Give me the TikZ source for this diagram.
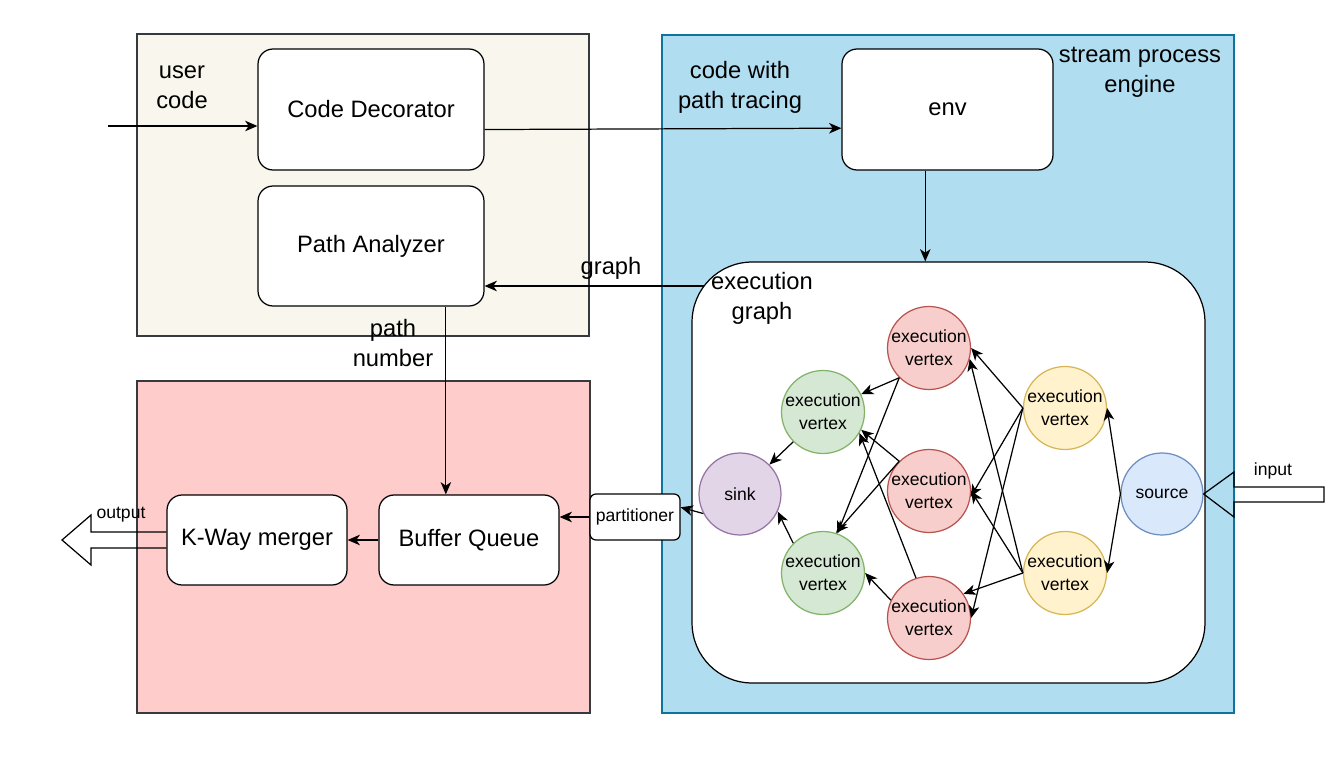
\documentclass[tikz,border=0pt]{standalone}
\usepackage{fontspec}
\setmainfont{Liberation Sans}
\usetikzlibrary{arrows.meta}
\definecolor{panelline}{HTML}{36393D}
\definecolor{usrfill}{HTML}{F9F7ED}
\definecolor{mrgfill}{HTML}{FFCCCC}
\definecolor{engfill}{HTML}{B1DDF0}
\definecolor{engline}{HTML}{10739E}
\definecolor{redfill}{HTML}{F8CECC}
\definecolor{redline}{HTML}{B85450}
\definecolor{greenfill}{HTML}{D5E8D4}
\definecolor{greenline}{HTML}{82B366}
\definecolor{yellowfill}{HTML}{FFF2CC}
\definecolor{yellowline}{HTML}{D6B656}
\definecolor{sinkfill}{HTML}{E1D5E7}
\definecolor{sinkline}{HTML}{9673A6}
\definecolor{srcfill}{HTML}{DAE8FC}
\definecolor{srcline}{HTML}{6C8EBF}
\begin{document}
\begin{tikzpicture}[x=0.02cm,y=0.02cm,line width=0.7pt,>={Stealth[length=7pt,width=6pt,inset=2pt]}]
\tikzstyle{every node}+=[inner sep=0pt]
\tikzstyle{panel}=[draw=panelline, rectangle]
\tikzstyle{block}=[draw=black, fill=white, rectangle, rounded corners=0.3cm, align=center, font=\fontsize{13.5}{17}\selectfont]
\tikzstyle{bigtext}=[align=center, font=\fontsize{13.5}{17}\selectfont]
\tikzstyle{smalltext}=[align=center, font=\fontsize{10}{13}\selectfont]
\tikzstyle{vertex}=[draw, circle, minimum size=1.64cm, align=center, font=\fontsize{10}{13}\selectfont]
\useasboundingbox (0,0) rectangle (1340,-774);
\node[panel, fill=usrfill, minimum width=9.04cm, minimum height=6.04cm] (usrpanel) at (363,-185) {};
\node[panel, fill=mrgfill, minimum width=9.06cm, minimum height=6.64cm] (mrgpanel) at (363.5,-547) {};
\node[panel, draw=engline, fill=engfill, minimum width=11.44cm, minimum height=13.56cm] (engpanel) at (948,-374) {};
\node[bigtext] (usrlbl) at (182,-87) {user\\code};
\node[bigtext] (tracelbl) at (740,-87) {code with\\path tracing};
\node[bigtext] (englbl) at (1140,-72) {stream process\\engine};
\node[bigtext] (graphlbl) at (611,-268) {graph};
\node[bigtext] (pathlbl) at (393,-343) {path\\number};
\node[block, minimum width=4.52cm, minimum height=2.42cm] (deco) at (371,-109.5) {Code Decorator};
\node[block, minimum width=4.52cm, minimum height=2.4cm] (ana) at (371,-246) {Path Analyzer};
\node[block, minimum width=4.22cm, minimum height=2.42cm] (env) at (947.5,-109.5) {env};
\node[block, rounded corners=1.2cm, minimum width=10.26cm, minimum height=8.42cm] (egraph) at (948.5,-472.5) {};
\node[bigtext] (egraphlbl) at (762,-298) {execution\\graph};
\node[block, minimum width=3.6cm, minimum height=1.8cm] (kway) at (257,-540) {K-Way merger};
\node[block, minimum width=3.6cm, minimum height=1.8cm] (buf) at (469,-540) {Buffer Queue};
\node[block, rounded corners=0.12cm, minimum width=1.8cm, minimum height=0.92cm, font=\fontsize{10}{13}\selectfont] (part) at (635,-517) {partitioner};
\node[vertex, draw=redline, fill=redfill] (rtop) at (929,-348) {execution\\vertex};
\node[vertex, draw=redline, fill=redfill] (rmid) at (929,-491) {execution\\vertex};
\node[vertex, draw=redline, fill=redfill] (rbot) at (929,-618) {execution\\vertex};
\node[vertex, draw=greenline, fill=greenfill] (gtop) at (823,-412) {execution\\vertex};
\node[vertex, draw=greenline, fill=greenfill] (gbot) at (823,-573) {execution\\vertex};
\node[vertex, draw=yellowline, fill=yellowfill] (ytop) at (1065,-408) {execution\\vertex};
\node[vertex, draw=yellowline, fill=yellowfill] (ybot) at (1065,-573) {execution\\vertex};
\node[vertex, draw=sinkline, fill=sinkfill] (sink) at (740,-494) {sink};
\node[vertex, draw=srcline, fill=srcfill] (src) at (1162,-494) {source};
\coordinate (usrin) at (108,-126);
\coordinate (gout) at (704,-286);
\draw [black, ->] (usrin) -- (usrin -| deco.west);
\draw [black, ->] (deco.-10) -- (env.190);
\draw [black, ->] (env.250) -- (env.250 |- egraph.north);
\draw [black, ->] (gout) -- (gout -| ana.east);
\draw [black, ->] (ana.-39) -- (ana.-39 |- buf.north);
\draw [black, ->] (part.west) -- (part.west -| buf.east);
\draw [black, ->] (buf) -- (kway);
\draw [black, ->] (sink.208) -- (part.12);
\draw [black, ->] (rtop.225) -- (gtop.25);
\draw [black, ->] (rtop.225) -- (gbot.70);
\draw [black, ->] (rmid.135) -- (gtop.-25);
\draw [black, ->] (rmid.135) -- (gbot.72);
\draw [black, ->] (rbot.155) -- (gbot.0);
\draw [black, ->] (rbot.108) -- (gtop.-30);
\draw [black, ->] (gtop.225) -- (sink.45);
\draw [black, ->] (gbot.135) -- (sink.-25);
\draw [black, ->] (ytop.west) -- (rtop.east);
\draw [black, ->] (ytop.west) -- (rmid.-8);
\draw [black, ->] (ytop.west) -- (rbot.east);
\draw [black, ->] (ybot.west) -- (rtop.-15);
\draw [black, ->] (ybot.west) -- (rmid.east);
\draw [black, ->] (ybot.west) -- (rbot.35);
\draw [black, ->] (src.west) -- (ytop.east);
\draw [black, ->] (src.west) -- (ybot.east);
\draw [black] (kway.west |- 0,-532) -- (91,-532) -- (91,-515) -- (62,-540) -- (91,-565) -- (91,-548) -- (kway.west |- 0,-548);
\node[smalltext] (outlbl) at (121,-515) {output};
\draw [black] (1324,-487) -- (1234,-487) -- (1234,-472) -- (src.east) -- (1234,-517) -- (1234,-502) -- (1324,-502) -- cycle;
\node[smalltext] (inlbl) at (1273,-471) {input};
\end{tikzpicture}
\end{document}
